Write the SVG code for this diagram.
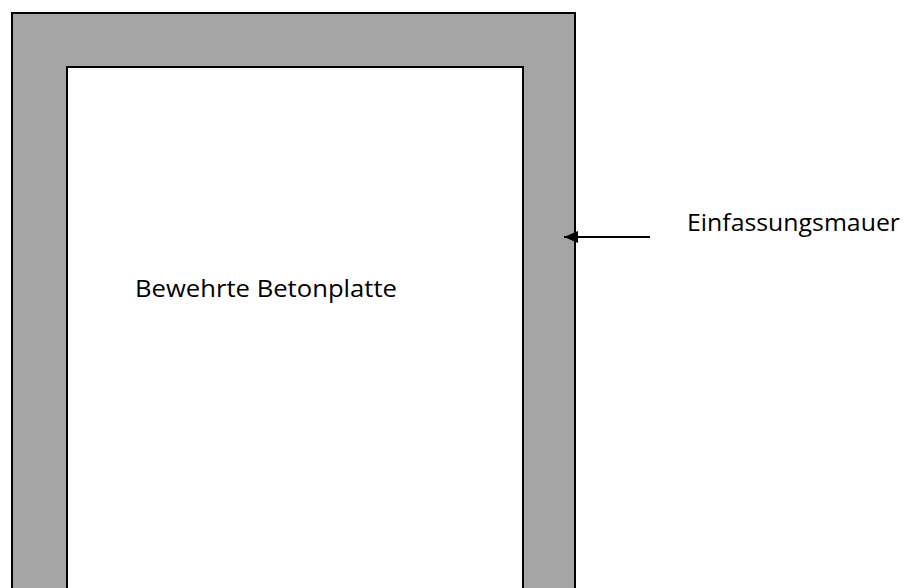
<svg xmlns="http://www.w3.org/2000/svg" width="915" height="588" viewBox="0 0 915 588">
<defs>
<style>
.lbl{font-family:"Open Sans","Liberation Sans",sans-serif;font-size:24px;fill:#000}
</style>
<marker id="ah" markerWidth="16" markerHeight="12" refX="14" refY="6" orient="auto" markerUnits="userSpaceOnUse">
<path d="M0,0 L14,6 L0,12 Z" fill="#000"/>
</marker>
</defs>
<rect width="915" height="588" fill="#fff"/>
<g id="wall">
<rect x="12" y="13" width="563" height="600" fill="#a5a5a5" stroke="#000" stroke-width="2"/>
</g>
<g id="slab">
<rect x="67" y="67" width="456" height="560" fill="#fff" stroke="#000" stroke-width="2"/>
<text class="lbl" x="135" y="297" textLength="262" lengthAdjust="spacingAndGlyphs">Bewehrte Betonplatte</text>
</g>
<g id="connectors">
<line x1="650" y1="237" x2="564" y2="237" stroke="#000" stroke-width="2" marker-end="url(#ah)"/>
</g>
<g id="label">
<text class="lbl" x="687" y="231" textLength="213" lengthAdjust="spacingAndGlyphs">Einfassungsmauer</text>
</g>
</svg>
